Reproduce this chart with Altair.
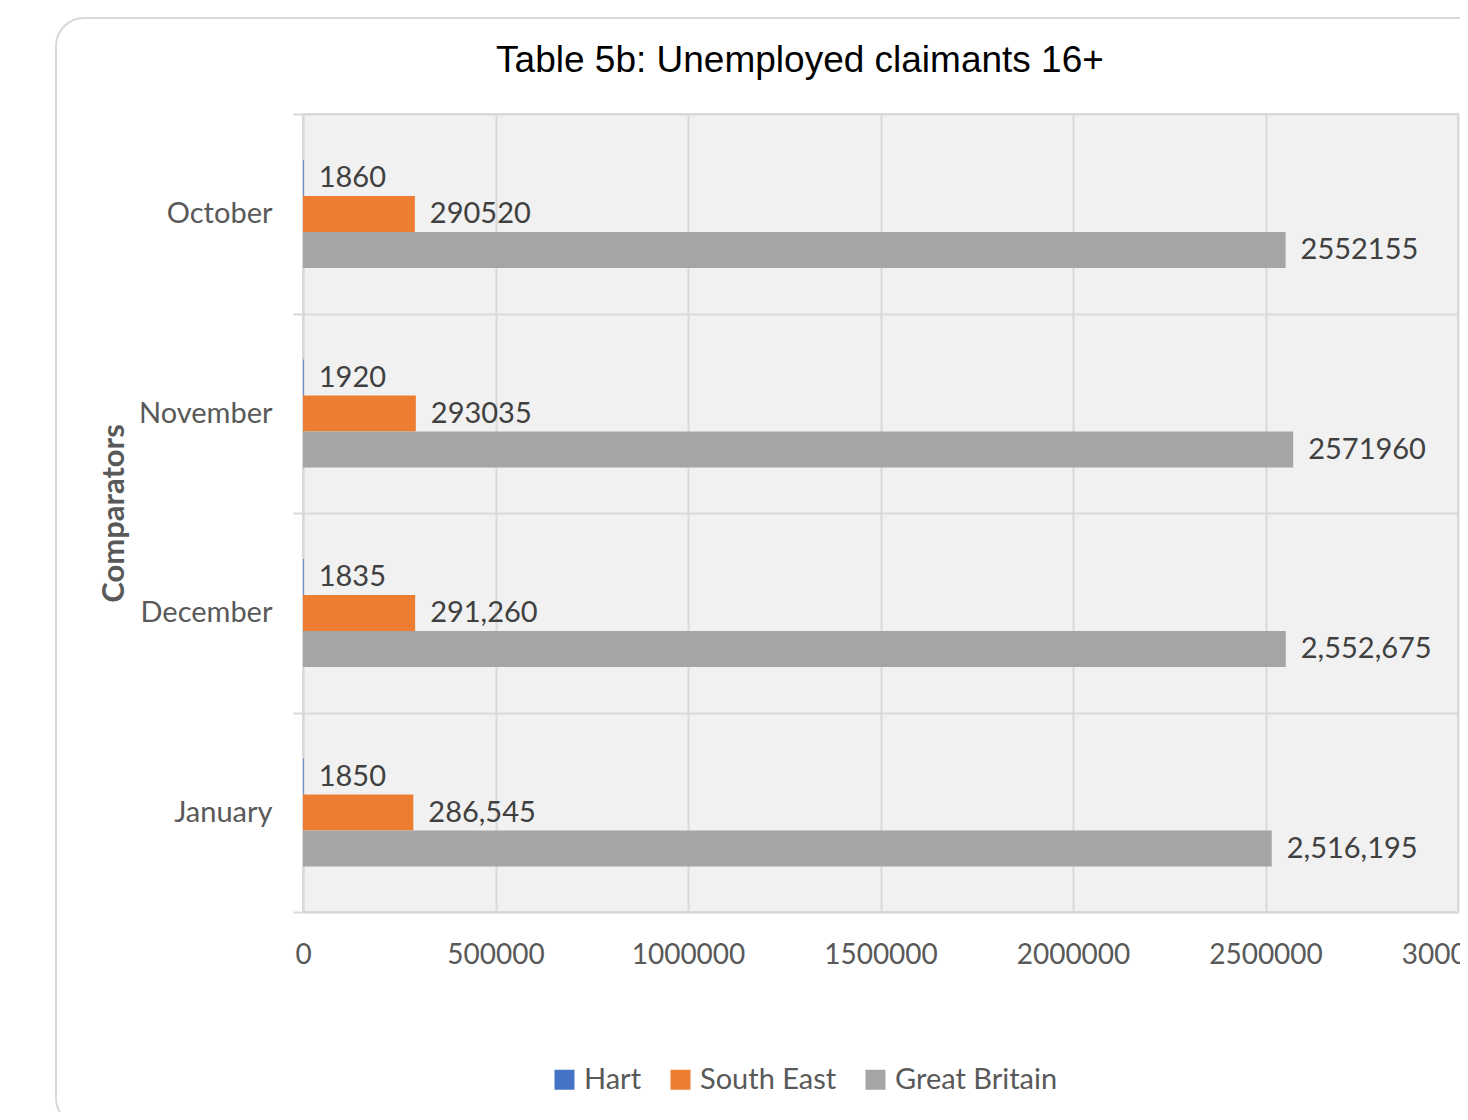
import altair as alt
import pandas as pd

months = ["October", "November", "December", "January"]
series = ["Hart", "South East", "Great Britain"]
hart = [1860, 1920, 1835, 1850]
south_east = [290520, 293035, 291260, 286545]
great_britain = [2552155, 2571960, 2552675, 2516195]
hart_labels = ["1860", "1920", "1835", "1850"]
se_labels = ["290520", "293035", "291,260", "286,545"]
gb_labels = ["2552155", "2571960", "2,552,675", "2,516,195"]
colors = ["#4472C4", "#ED7D31", "#A5A5A5"]
x_ticks = [0, 500000, 1000000, 1500000, 2000000, 2500000, 3000000]
title_text = "Table 5b: Unemployed claimants 16+"

rows = []
for i, m in enumerate(months):
    for s, vals, labs in zip(series, [hart, south_east, great_britain],
                             [hart_labels, se_labels, gb_labels]):
        rows.append({"Month": m, "Series": s, "Value": vals[i], "Label": labs[i]})
df = pd.DataFrame(rows)

FONT = "Lato"
GRAY = "#595959"
LINE = "#d9d9d9"

y_enc = alt.Y("Month:N", sort=months,
              scale=alt.Scale(paddingInner=0, paddingOuter=0),
              axis=alt.Axis(title="Comparators", titleFont=FONT, titleFontSize=31,
                            titleFontWeight="bold", titleColor=GRAY, titlePadding=8,
                            labelFont=FONT, labelFontSize=29, labelColor=GRAY,
                            labelPadding=21, tickBand="extent", tickSize=10,
                            tickColor=LINE, tickWidth=2, grid=True, gridColor=LINE,
                            gridWidth=2, domainColor=LINE, domainWidth=2))
x_enc = alt.X("Value:Q", scale=alt.Scale(domain=[0, 3000000], nice=False),
              axis=alt.Axis(title=None, values=x_ticks, format="d", labelFont=FONT,
                            labelFontSize=28, labelColor=GRAY, labelPadding=29,
                            labelFlush=False, labelOverlap=False, ticks=False,
                            grid=True, gridColor=LINE, gridWidth=2,
                            domainColor=LINE, domainWidth=2))
yoff_enc = alt.YOffset("Series:N", sort=series,
                       scale=alt.Scale(paddingInner=0, paddingOuter=0, range=[46, 154]))

base = alt.Chart(df)
bars = base.mark_bar().encode(
    x=x_enc, y=y_enc, yOffset=yoff_enc,
    color=alt.Color("Series:N", sort=series,
                    scale=alt.Scale(domain=series, range=colors),
                    legend=alt.Legend(title=None, orient="none", legendX=247,
                                      legendY=951, direction="horizontal",
                                      symbolType="square", symbolSize=400,
                                      symbolStrokeWidth=0, labelFont=FONT,
                                      labelFontSize=29, labelColor=GRAY,
                                      labelLimit=400, labelOffset=5,
                                      columnPadding=24)),
)
labels = base.mark_text(align="left", baseline="middle", dx=15, font=FONT,
                        fontSize=29, color="#404040").encode(
    x="Value:Q", y=alt.Y("Month:N", sort=months), yOffset=alt.YOffset("Series:N", sort=series),
    text="Label:N",
)
card = alt.Chart(alt.Data(values=[{"k": 1}])).mark_rect(
    cornerRadius=28, fillOpacity=0, stroke=LINE, strokeWidth=2
).encode(x=alt.value(-247), x2=alt.value(1240), y=alt.value(-96), y2=alt.value(1012))
title = alt.Chart(alt.Data(values=[{"t": title_text}])).mark_text(
    font="Liberation Sans", fontSize=37, color="#000000", align="center",
    baseline="alphabetic"
).encode(text="t:N", x=alt.value(497), y=alt.value(-42))

chart = alt.layer(bars, labels, card, title).properties(
    width=1155, height=798,
    autosize=alt.AutoSizeParams(type="none"),
    padding={"left": 295, "top": 106, "right": 2, "bottom": 200},
).configure_view(fill="#f1f1f1", stroke=LINE, strokeWidth=2)

chart.save("out.html", embed_options={"renderer": "svg", "actions": False})
